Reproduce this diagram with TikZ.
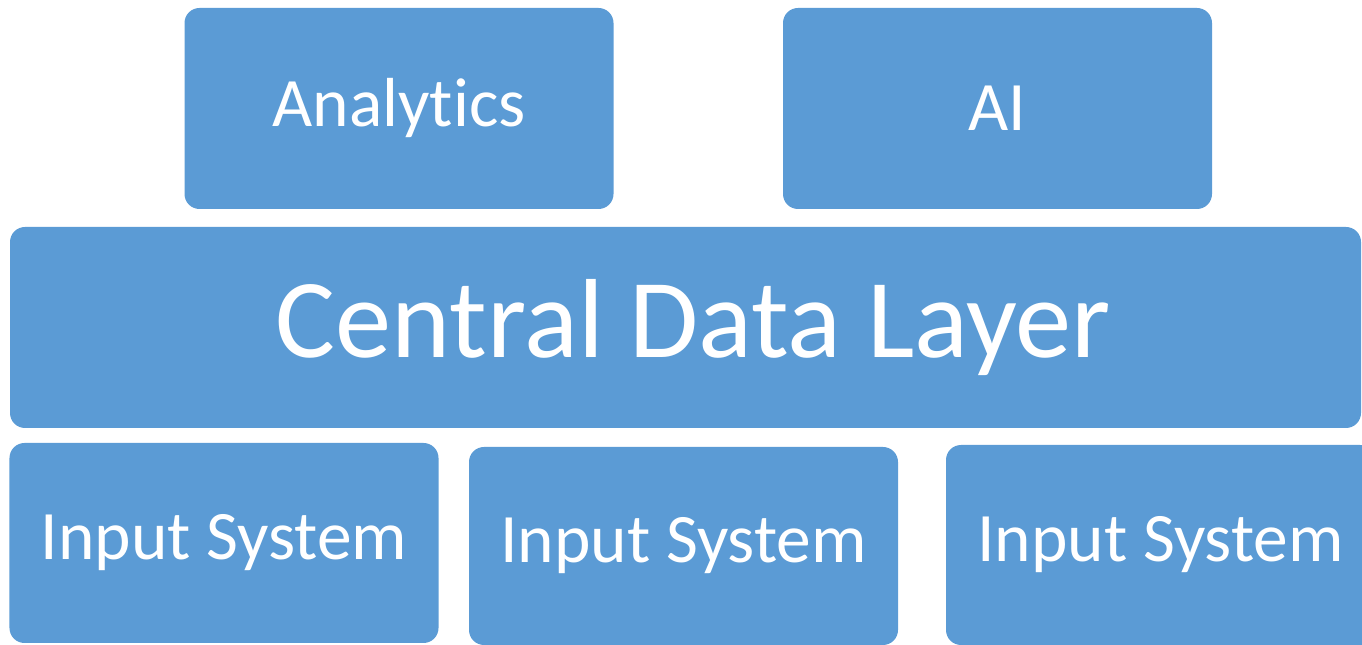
\documentclass[tikz,border=0pt]{standalone}
\usepackage{fontspec}
\setmainfont[Ligatures=NoCommon]{Carlito}
\usetikzlibrary{positioning}
\definecolor{tileblue}{HTML}{5B9BD5}
\tikzstyle{tile} = [rectangle, rounded corners=0.3cm, fill=tileblue, text=white, inner sep=0pt, minimum width=8.58cm, minimum height=4.02cm, text centered]
\tikzstyle{toptile} = [tile, font=\fontsize{39.5}{45}\selectfont]
\tikzstyle{inputtile} = [tile, font=\fontsize{39.5}{45}\selectfont]
\tikzstyle{layertile} = [tile, minimum width=27.02cm, font=\fontsize{64}{74}\selectfont]

\begin{document}
\begin{tikzpicture}
	\useasboundingbox (0,0) rectangle (27.24,12.9);
	\clip (0,0) rectangle (27.24,12.9);
	\node (analytics) [toptile] at (7.98,10.73) {Analytics};
	\node (ai) [toptile] at (19.95,10.73) {AI};
	\node (layer) [layertile] at (13.71,6.35) {\hspace*{0.32cm}Central Data Layer};
	\node (in1) [inputtile, minimum height=4.0cm] at (4.48,2.04) {\raisebox{-0.08cm}{Input System}};
	\node (in2) [inputtile, minimum height=3.96cm] at (13.67,1.98) {\raisebox{-0.08cm}{Input System}};
	\node (in3) [inputtile, minimum height=4.0cm] at (23.21,2.0) {\raisebox{-0.08cm}{Input System}};
\end{tikzpicture}
\end{document}
